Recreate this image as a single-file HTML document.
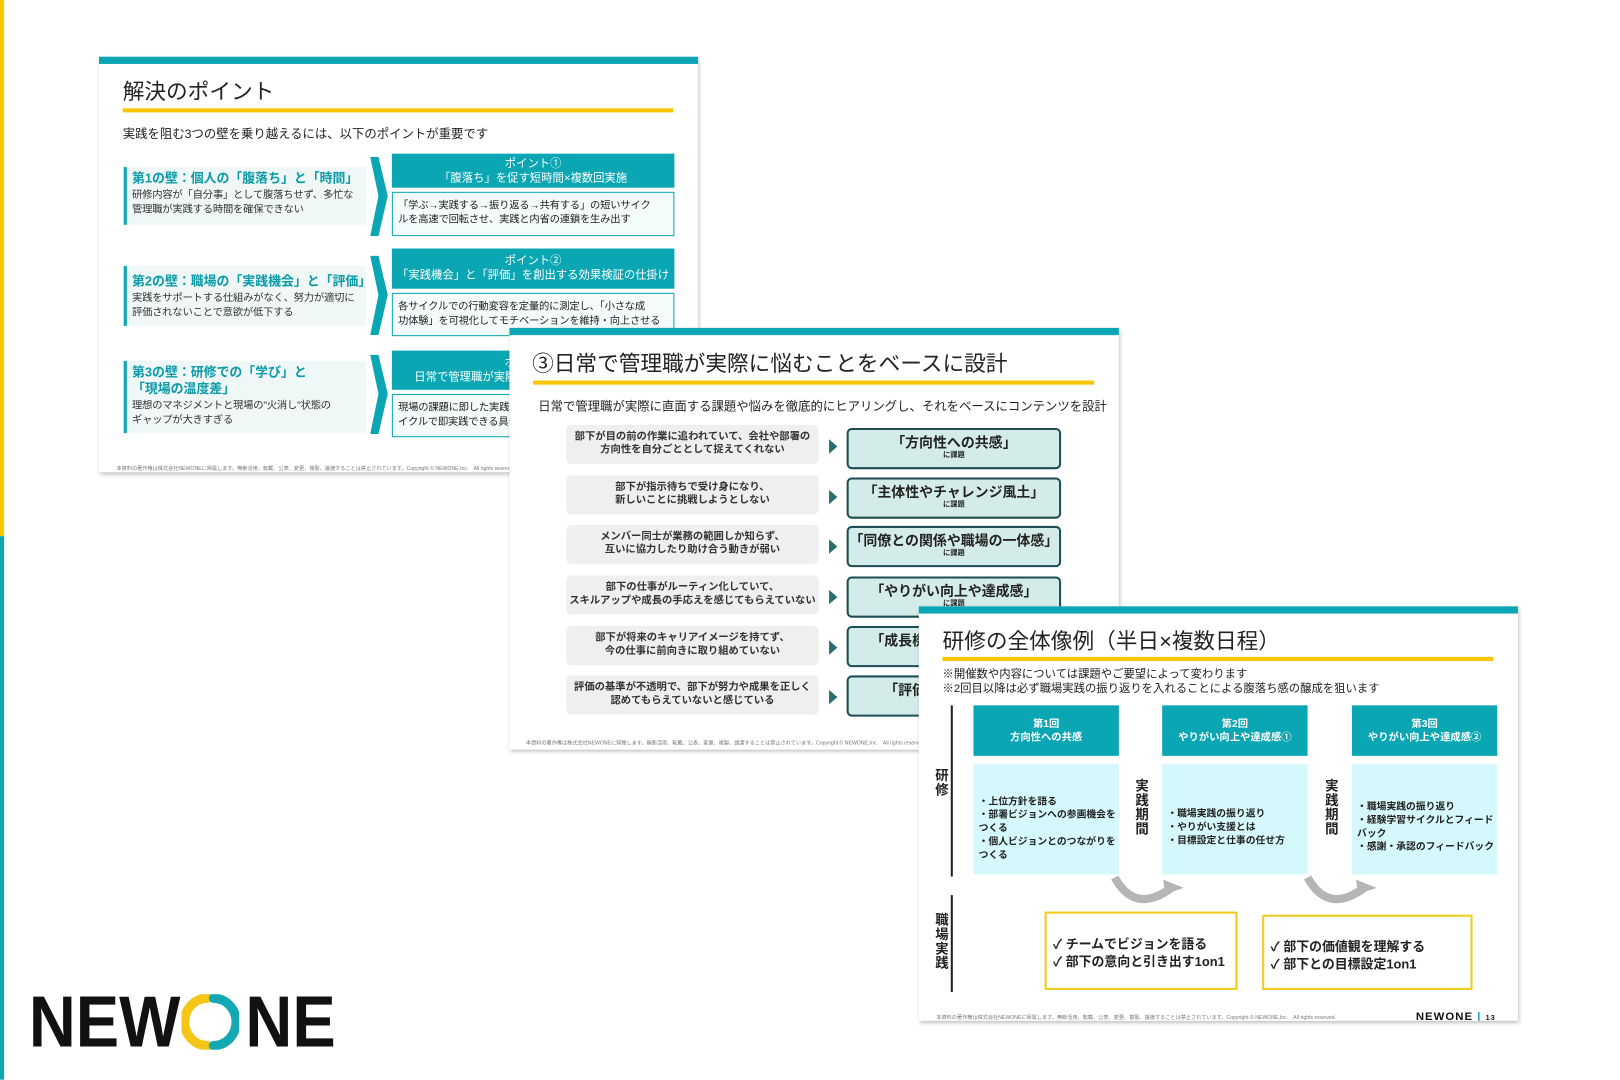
<!DOCTYPE html>
<html><head><meta charset="utf-8"><style>
*{margin:0;padding:0;box-sizing:border-box}
html,body{width:1620px;height:1080px;overflow:hidden;background:#fff;font-family:"Liberation Sans","Noto Sans CJK JP",sans-serif;color:#222}
#w{position:absolute;left:0;top:0;width:1571px;height:1047px;transform:scale(1.0312);transform-origin:0 0}
.a{position:absolute}
.slide{position:absolute;background:#fff;box-shadow:1px 2px 4px rgba(0,0,0,.28);border-top:7px solid #0ba6b3;overflow:hidden}
.ttl{position:absolute;font-size:21px;color:#222;white-space:nowrap}
.yl{position:absolute;height:4px;background:#f7c600}
.sub{position:absolute;font-size:12px;white-space:nowrap;color:#222}
.lb{position:absolute;background:#eff7f7;border-left:3px solid #0ba6b3;padding:3px 0 0 5px;white-space:nowrap}
.lb b{display:block;color:#0a9aa8;font-size:12.5px;line-height:16px;margin-bottom:2px}
.lb span{display:block;font-size:10px;line-height:14px;color:#333;letter-spacing:-0.2px}
.hd{position:absolute;background:#0ba6b3;color:#fff;text-align:center;font-size:11px;line-height:14px;padding-top:3px;white-space:nowrap}
.bd{position:absolute;border:1px solid #0ba6b3;background:#f4fbfb;font-size:10px;line-height:14px;padding:6px 5px 0;white-space:nowrap;letter-spacing:-0.2px}
.gb{position:absolute;background:#efefef;border-radius:5px;font-size:10px;font-weight:bold;text-align:center;line-height:13px;padding-top:5px;color:#333;white-space:nowrap}
.rb{position:absolute;background:#d3ebe9;border:2px solid #1d4d53;border-radius:5px;text-align:center;font-weight:bold;font-size:13.5px;line-height:17px;padding-top:4px;white-space:nowrap}
.rb small{display:block;font-size:7px;line-height:8px}
.ar{position:absolute;width:0;height:0;border-left:8px solid #2a6d6f;border-top:7px solid transparent;border-bottom:7px solid transparent}
.ft{position:absolute;font-size:5px;color:#777;white-space:nowrap}
.th{position:absolute;background:#0ba6b3;color:#fff;font-weight:bold;font-size:10px;text-align:center;line-height:13px;padding-top:12px}
.tb{position:absolute;background:#d5f8fc;font-weight:bold;font-size:9.5px;line-height:13px;padding-left:5px}
.vt{position:absolute;writing-mode:vertical-rl;font-weight:bold;font-size:13px;letter-spacing:1px}
.yb{position:absolute;border:2px solid #f2cb1a;font-weight:bold;font-size:12.5px;line-height:17px}
.logo{position:absolute;font-weight:bold;font-size:70px;line-height:70px;color:#111;white-space:nowrap;transform:scaleX(0.9);transform-origin:0 0}
</style></head><body><div id="w">
<div class="a" style="left:0;top:0;width:4px;height:520px;background:#f7c600"></div>
<div class="a" style="left:0;top:520px;width:4px;height:527px;background:#0ba6b3"></div>

<!-- slide 1 -->
<div class="slide" style="left:96px;top:55px;width:581px;height:403px">
<div class="ttl" style="left:23px;top:11px">解決のポイント</div>
<div class="yl" style="left:23px;top:43px;width:534px"></div>
<div class="sub" style="left:23px;top:59px">実践を阻む3つの壁を乗り越えるには、以下のポイントが重要です</div>

<div class="lb" style="left:24px;top:100px;width:235px;height:56px"><b>第1の壁：個人の「腹落ち」と「時間」</b><span>研修内容が「自分事」として腹落ちせず、多忙な<br>管理職が実践する時間を確保できない</span></div>
<svg class="a" style="left:263px;top:90px" width="18" height="77"><polygon points="0,0 8,0 17,38 8,77 0,77 8,38" fill="#0ba6b3"/></svg>
<div class="hd" style="left:284px;top:87px;width:274px;height:33px">ポイント①<br>「腹落ち」を促す短時間×複数回実施</div>
<div class="bd" style="left:284px;top:124px;width:274px;height:43px">「学ぶ→実践する→振り返る→共有する」の短いサイク<br>ルを高速で回転させ、実践と内省の連鎖を生み出す</div>

<div class="lb" style="left:24px;top:196px;width:235px;height:58px"><b style="margin-top:4px">第2の壁：職場の「実践機会」と「評価」</b><span>実践をサポートする仕組みがなく、努力が適切に<br>評価されないことで意欲が低下する</span></div>
<svg class="a" style="left:263px;top:186px" width="18" height="77"><polygon points="0,0 8,0 17,38 8,77 0,77 8,38" fill="#0ba6b3"/></svg>
<div class="hd" style="left:284px;top:179px;width:274px;height:39px;padding-top:5px">ポイント②<br>「実践機会」と「評価」を創出する効果検証の仕掛け</div>
<div class="bd" style="left:284px;top:222px;width:274px;height:42px">各サイクルでの行動変容を定量的に測定し、「小さな成<br>功体験」を可視化してモチベーションを維持・向上させる</div>

<div class="lb" style="left:24px;top:288px;width:235px;height:70px"><b>第3の壁：研修での「学び」と<br>「現場の温度差」</b><span>理想のマネジメントと現場の"火消し"状態の<br>ギャップが大きすぎる</span></div>
<svg class="a" style="left:263px;top:282px" width="18" height="77"><polygon points="0,0 8,0 17,38 8,77 0,77 8,38" fill="#0ba6b3"/></svg>
<div class="hd" style="left:284px;top:278px;width:274px;height:38px;padding-top:5px">ポイント③<br>日常で管理職が実際に悩むことをベースに設計</div>
<div class="bd" style="left:284px;top:320px;width:274px;height:42px">現場の課題に即した実践テーマを設定し、短いサ<br>イクルで即実践できる具体的な行動に落とし込む</div>
<div class="ft" style="left:17px;top:389px">本資料の著作権は株式会社NEWONEに帰属します。無断活用、転載、公表、変更、複製、譲渡することは禁止されています。Copyright © NEWONE,Inc.　All rights reserved.</div>
</div>

<!-- slide 2 -->
<div class="slide" style="left:494px;top:318px;width:591px;height:409px">
<div class="ttl" style="left:22px;top:12px">③日常で管理職が実際に悩むことをベースに設計</div>
<div class="yl" style="left:23px;top:44px;width:544px"></div>
<div class="sub" style="left:28px;top:60px">日常で管理職が実際に直面する課題や悩みを徹底的にヒアリングし、それをベースにコンテンツを設計</div>
<div class="gb" style="left:55px;top:87px;width:245px;height:38px">部下が目の前の作業に追われていて、会社や部署の<br>方向性を自分ごととして捉えてくれない</div>
<div class="gb" style="left:55px;top:136px;width:245px;height:38px">部下が指示待ちで受け身になり、<br>新しいことに挑戦しようとしない</div>
<div class="gb" style="left:55px;top:184px;width:245px;height:38px">メンバー同士が業務の範囲しか知らず、<br>互いに協力したり助け合う動きが弱い</div>
<div class="gb" style="left:55px;top:233px;width:245px;height:38px">部下の仕事がルーティン化していて、<br>スキルアップや成長の手応えを感じてもらえていない</div>
<div class="gb" style="left:55px;top:282px;width:245px;height:38px">部下が将来のキャリアイメージを持てず、<br>今の仕事に前向きに取り組めていない</div>
<div class="gb" style="left:55px;top:330px;width:245px;height:38px">評価の基準が不透明で、部下が努力や成果を正しく<br>認めてもらえていないと感じている</div>
<div class="ar" style="left:310px;top:101px"></div><div class="ar" style="left:310px;top:150px"></div><div class="ar" style="left:310px;top:198px"></div><div class="ar" style="left:310px;top:247px"></div><div class="ar" style="left:310px;top:296px"></div><div class="ar" style="left:310px;top:344px"></div>
<div class="rb" style="left:327px;top:90px;width:208px;height:40px">「方向性への共感」<small>に課題</small></div>
<div class="rb" style="left:327px;top:138px;width:208px;height:40px">「主体性やチャレンジ風土」<small>に課題</small></div>
<div class="rb" style="left:327px;top:185px;width:208px;height:40px">「同僚との関係や職場の一体感」<small>に課題</small></div>
<div class="rb" style="left:327px;top:234px;width:208px;height:40px">「やりがい向上や達成感」<small>に課題</small></div>
<div class="rb" style="left:327px;top:282px;width:208px;height:40px">「成長機会や自己効力感」<small>に課題</small></div>
<div class="rb" style="left:327px;top:330px;width:208px;height:40px">「評価や承認の実感」<small>に課題</small></div>
<div class="ft" style="left:16px;top:392px">本資料の著作権は株式会社NEWONEに帰属します。無断活用、転載、公表、変更、複製、譲渡することは禁止されています。Copyright © NEWONE,Inc.　All rights reserved.</div>
</div>

<!-- slide 3 -->
<div class="slide" style="left:891px;top:588px;width:581px;height:402px">
<div class="ttl" style="left:23px;top:11px">研修の全体像例（半日×複数日程）</div>
<div class="yl" style="left:23px;top:42px;width:534px"></div>
<div class="sub" style="left:23px;top:52px;font-size:11px;line-height:14px">※開催数や内容については課題やご要望によって変わります<br>※2回目以降は必ず職場実践の振り返りを入れることによる腹落ち感の醸成を狙います</div>
<div class="a" style="left:31px;top:89px;width:2px;height:166px;background:#222"></div>
<div class="a" style="left:31px;top:273px;width:2px;height:94px;background:#222"></div>
<div class="vt" style="left:12px;top:150px">研修</div>
<div class="vt" style="left:12px;top:290px">職場実践</div>
<div class="th" style="left:53px;top:89px;width:141px;height:49px">第1回<br>方向性への共感</div>
<div class="th" style="left:236px;top:89px;width:141px;height:49px">第2回<br>やりがい向上や達成感①</div>
<div class="th" style="left:420px;top:89px;width:141px;height:49px">第3回<br>やりがい向上や達成感②</div>
<div class="tb" style="left:53px;top:146px;width:141px;height:107px;padding-top:30px">・上位方針を語る<br>・部署ビジョンへの参画機会を<br>つくる<br>・個人ビジョンとのつながりを<br>つくる</div>
<div class="tb" style="left:236px;top:146px;width:141px;height:107px;padding-top:42px">・職場実践の振り返り<br>・やりがい支援とは<br>・目標設定と仕事の任せ方</div>
<div class="tb" style="left:420px;top:146px;width:141px;height:107px;padding-top:35px">・職場実践の振り返り<br>・経験学習サイクルとフィード<br>バック<br>・感謝・承認のフィードバック</div>
<div class="vt" style="left:206px;top:160px">実践期間</div>
<div class="vt" style="left:390px;top:160px">実践期間</div>
<svg class="a" style="left:185px;top:254px" width="80" height="30"><path d="M5,2 Q25,38 60,12" fill="none" stroke="#b5b5b5" stroke-width="8"/><polygon points="52,4 72,12 54,18" fill="#b5b5b5"/></svg>
<svg class="a" style="left:372px;top:254px" width="80" height="30"><path d="M5,2 Q25,38 60,12" fill="none" stroke="#b5b5b5" stroke-width="8"/><polygon points="52,4 72,12 54,18" fill="#b5b5b5"/></svg>
<div class="yb" style="left:122px;top:289px;width:187px;height:76px;padding:22px 0 0 6px">✓ チームでビジョンを語る<br>✓ 部下の意向と引き出す1on1</div>
<div class="yb" style="left:333px;top:292px;width:204px;height:73px;padding:21px 0 0 6px">✓ 部下の価値観を理解する<br>✓ 部下との目標設定1on1</div>
<div class="ft" style="left:17px;top:388px">本資料の著作権は株式会社NEWONEに帰属します。無断活用、転載、公表、変更、複製、譲渡することは禁止されています。Copyright © NEWONE,Inc.　All rights reserved.</div>
<div class="a" style="left:482px;top:385px;font-weight:bold;font-size:11px;letter-spacing:1px;color:#111">NEWONE <span style="color:#0ba6b3">|</span> <span style="font-size:7px">13</span></div>
</div>

<!-- logo -->
<div class="logo" style="left:28px;top:956px">NEW</div>
<div class="logo" style="left:238px;top:956px">NE</div>
<svg class="a" style="left:176px;top:964px" width="56" height="54"><path d="M25,4 A22,23 0 0 0 25,50" fill="none" stroke="#f5c518" stroke-width="9" stroke-linecap="round"/><path d="M31,4 A22,23 0 0 1 31,50" fill="none" stroke="#14a7b4" stroke-width="9" stroke-linecap="round"/></svg>
</div></body></html>
